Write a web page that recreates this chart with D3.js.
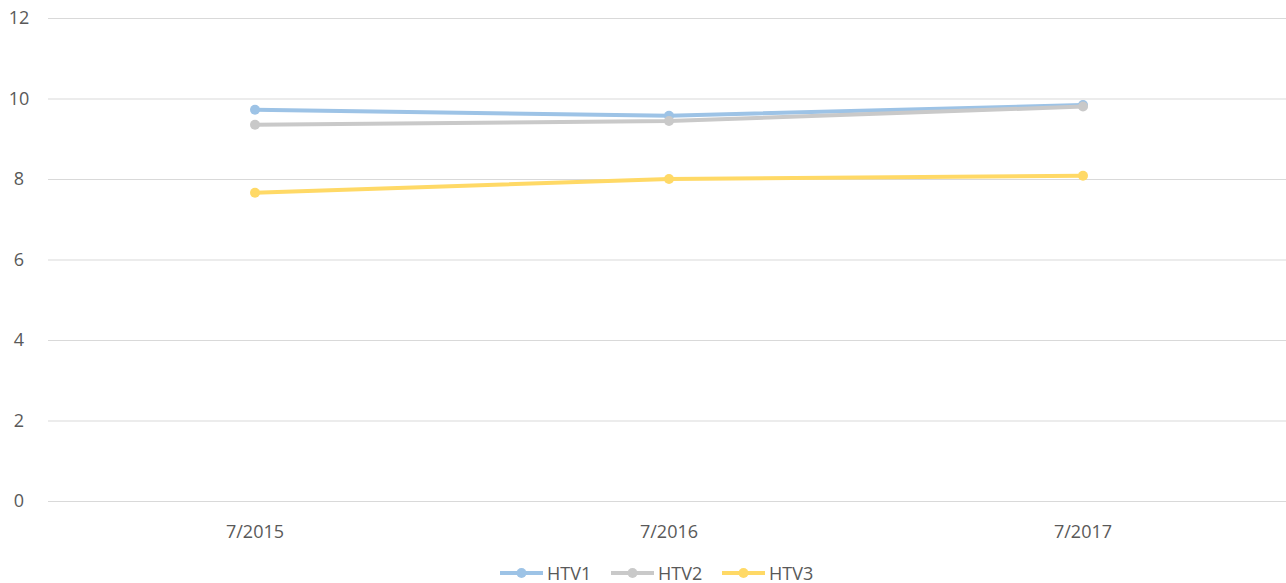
<!DOCTYPE html>
<html>
<head>
<meta charset="utf-8">
<script src="https://cdn.jsdelivr.net/npm/d3@7"></script>
<style>
  body { margin: 0; background: #fff; }
  svg { display: block; font-family: "Open Sans", Roboto, "Noto Sans", sans-serif; }
</style>
</head>
<body>
<svg id="chart" width="1286" height="583"></svg>
<script>
const categories = ['7/2015', '7/2016', '7/2017'];
const htv1 = [9.72, 9.57, 9.84];
const htv2 = [9.35, 9.44, 9.80];
const htv3 = [7.66, 8.0, 8.08];
const yTicks = [0, 2, 4, 6, 8, 10, 12];
const seriesNames = ['HTV1', 'HTV2', 'HTV3'];
const colors = ['#9dc3e6', '#c9c9c9', '#ffd966'];

const svg = d3.select('#chart');
const plotLeft = 48, plotRight = 1290, plotTop = 18, plotBottom = 501;

const x = d3.scaleBand().domain(categories).range([plotLeft, plotRight]);
const y = d3.scaleLinear().domain([0, 12]).range([plotBottom, plotTop]);

// grid
svg.append('g').selectAll('line').data(yTicks).enter().append('line')
  .attr('x1', plotLeft).attr('x2', 1286)
  .attr('y1', d => y(d) + 0.5).attr('y2', d => y(d) + 0.5)
  .attr('stroke', '#d9d9d9').attr('stroke-width', 1);

// y labels
svg.append('g').selectAll('text').data(yTicks).enter().append('text')
  .attr('x', 19).attr('y', d => y(d) + 6)
  .attr('text-anchor', 'middle')
  .attr('font-size', 18).attr('fill', '#595959')
  .text(d => d);

// x labels
svg.append('g').selectAll('text').data(categories).enter().append('text')
  .attr('x', d => x(d) + x.bandwidth() / 2).attr('y', 538)
  .attr('text-anchor', 'middle')
  .attr('font-size', 18).attr('fill', '#595959')
  .text(d => d);

const series = [htv1, htv2, htv3];
const line = d3.line()
  .x((d, i) => x(categories[i]) + x.bandwidth() / 2)
  .y(d => y(d));

series.forEach((vals, si) => {
  const g = svg.append('g');
  g.append('path').attr('d', line(vals))
    .attr('fill', 'none').attr('stroke', colors[si])
    .attr('stroke-width', 4).attr('stroke-linecap', 'round');
  g.selectAll('circle').data(vals).enter().append('circle')
    .attr('cx', (d, i) => x(categories[i]) + x.bandwidth() / 2)
    .attr('cy', d => y(d))
    .attr('r', 5).attr('fill', colors[si]);
});

// legend
const legend = svg.append('g').attr('transform', 'translate(500,573)');
const legendX = [0, 111, 222];
seriesNames.forEach((name, i) => {
  const g = legend.append('g').attr('transform', `translate(${legendX[i]},0)`);
  g.append('line').attr('x1', 0).attr('x2', 43).attr('y1', 0).attr('y2', 0)
    .attr('stroke', colors[i]).attr('stroke-width', 4);
  g.append('circle').attr('cx', 21.5).attr('cy', 0).attr('r', 5).attr('fill', colors[i]);
  g.append('text').attr('x', 47).attr('y', 6.5)
    .attr('font-size', 18).attr('fill', '#595959').text(name);
});
</script>
</body>
</html>
